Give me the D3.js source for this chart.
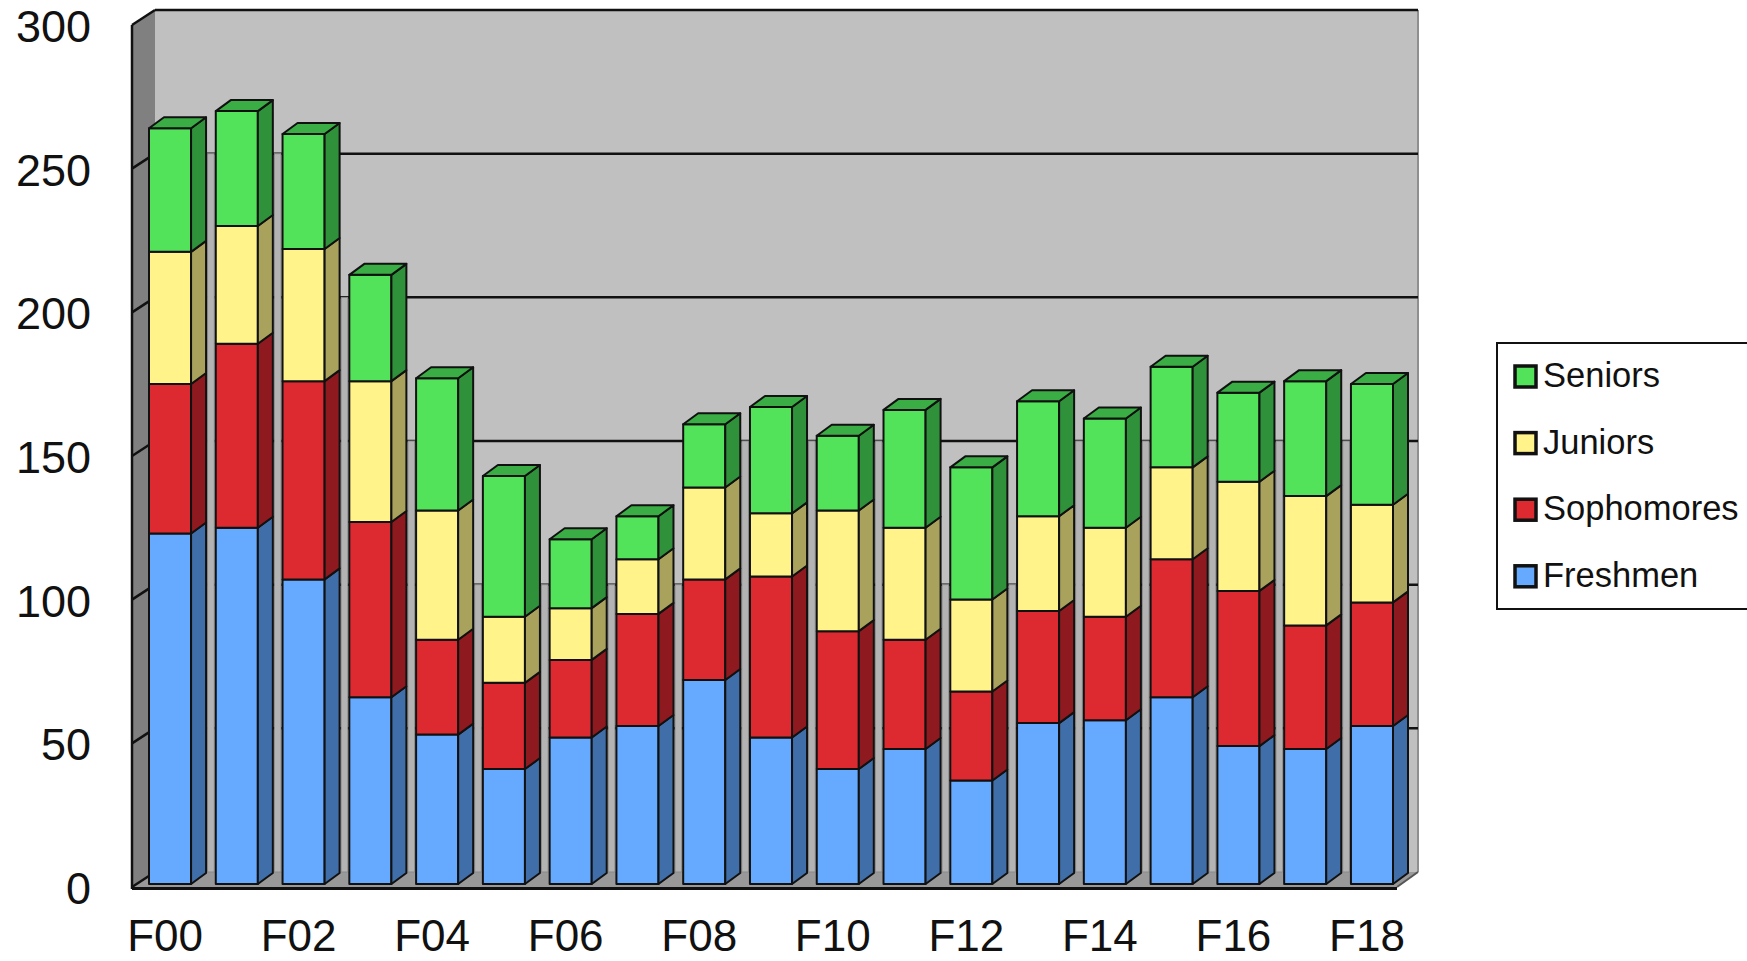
<!DOCTYPE html>
<html>
<head>
<meta charset="utf-8">
<script src="https://cdn.jsdelivr.net/npm/d3@7"></script>
<style>
  body { margin: 0; background: #fff; }
  svg { display: block; font-family: 'Liberation Sans', Arial, sans-serif; }
</style>
</head>
<body>
<div class="chart"></div>
<script>
// data (students per fall term)
const categories = ['F00','F01','F02','F03','F04','F05','F06','F07','F08','F09',
                    'F10','F11','F12','F13','F14','F15','F16','F17','F18'];
const freshmen   = [122, 124, 106, 65, 52, 40, 51, 55, 71, 51, 40, 47, 36, 56, 57, 65, 48, 47, 55];
const sophomores = [ 52,  64,  69, 61, 33, 30, 27, 39, 35, 56, 48, 38, 31, 39, 36, 48, 54, 43, 43];
const juniors    = [ 46,  41,  46, 49, 45, 23, 18, 19, 32, 22, 42, 39, 32, 33, 31, 32, 38, 45, 34];
const seniors    = [ 43,  40,  40, 37, 46, 49, 24, 15, 22, 37, 26, 41, 46, 40, 38, 35, 31, 40, 42];
const series_names = ['Freshmen', 'Sophomores', 'Juniors', 'Seniors'];
const y_ticks = [0, 50, 100, 150, 200, 250, 300];

const colors = {
    Freshmen:   {front: '#66aaff', side: '#3f6ea8', top: '#4f8fd8'},
    Sophomores: {front: '#dd2a31', side: '#8e1a1f', top: '#b22228'},
    Juniors:    {front: '#fff38a', side: '#a8a25c', top: '#d8cf70'},
    Seniors:    {front: '#52e35b', side: '#2f913a', top: '#3aae44'}
};

const svg_width = 1747, svg_height = 961;
const wall = {left: 132, back_left: 155, right: 1418, front_right: 1397, dx: 23, dy: 15};
const bar_dx = 15, bar_dy = 11;

const rows = categories.map((c, i) => ({
    term: c,
    Freshmen: freshmen[i], Sophomores: sophomores[i], Juniors: juniors[i], Seniors: seniors[i]
}));
const stacked = d3.stack().keys(series_names)(rows);

const svg = d3.select('.chart').append('svg')
    .attr('width', svg_width).attr('height', svg_height);

// scales: front plane, back wall, bar front faces
const y_front = d3.scaleLinear([0, 300], [887, 25]);
const y_back  = d3.scaleLinear([0, 300], [887 - wall.dy, 25 - wall.dy]);
const y_bar   = d3.scaleLinear([0, 300], [884, 22]);
const x_scale = d3.scaleBand().domain(categories).range([149, 1393])
    .paddingInner(0.37).paddingOuter(0);
const bw = x_scale.bandwidth();

// walls
svg.append('rect')
    .attr('x', wall.back_left).attr('y', y_back(300))
    .attr('width', wall.right - wall.back_left).attr('height', y_back(0) - y_back(300))
    .attr('fill', '#c0c0c0');
svg.append('line')
    .attr('x1', wall.right).attr('x2', wall.right)
    .attr('y1', y_back(300)).attr('y2', y_back(0))
    .attr('stroke', '#8f8f8f').attr('stroke-width', 2);
svg.append('polygon')
    .attr('points', [[wall.left, y_front(300)], [wall.back_left, y_back(300)],
                     [wall.back_left, y_back(0)], [wall.left, y_front(0)]].join(' '))
    .attr('fill', '#808080');
svg.append('polygon')
    .attr('points', [[wall.left, y_front(0)], [wall.back_left, y_back(0)],
                     [wall.right, y_back(0)], [wall.front_right, y_front(0)]].join(' '))
    .attr('fill', '#999999');
svg.append('line')
    .attr('x1', wall.front_right).attr('y1', y_front(0))
    .attr('x2', wall.right).attr('y2', y_back(0))
    .attr('stroke', '#555').attr('stroke-width', 2);

// gridlines on back wall + slanted ticks on the side wall
const grid = svg.append('g').attr('class', 'grid');
grid.selectAll('.hline').data(y_ticks.filter(d => d > 0)).join('line')
    .attr('x1', wall.back_left).attr('x2', wall.right)
    .attr('y1', d => y_back(d)).attr('y2', d => y_back(d))
    .attr('stroke', '#111').attr('stroke-width', 2.5);
grid.selectAll('.sline').data(y_ticks).join('line')
    .attr('x1', wall.left).attr('y1', d => y_front(d))
    .attr('x2', wall.back_left).attr('y2', d => y_back(d))
    .attr('stroke', '#111').attr('stroke-width', 2.5);
svg.append('line')
    .attr('x1', wall.left).attr('x2', wall.left)
    .attr('y1', y_front(300)).attr('y2', y_front(0) + 2)
    .attr('stroke', '#111').attr('stroke-width', 2.5);

// gray strips between bars
const totals = rows.map(r => r.Freshmen + r.Sophomores + r.Juniors + r.Seniors);
const strips = d3.range(categories.length - 1).map(i => ({
    x0: x_scale(categories[i]) + bw + bar_dx + 1.5,
    x1: x_scale(categories[i + 1]) - 1.5,
    top: Math.floor(Math.min(totals[i], totals[i + 1]) / 50) * 50
}));
svg.append('g').selectAll('rect').data(strips).join('rect')
    .attr('x', d => d.x0).attr('width', d => d.x1 - d.x0)
    .attr('y', d => y_back(d.top)).attr('height', d => y_back(0) - y_back(d.top))
    .attr('fill', '#b3b3b3').attr('stroke', '#8a8a8a').attr('stroke-width', 1);

// floor front edge
svg.append('line')
    .attr('x1', wall.left).attr('x2', wall.front_right)
    .attr('y1', y_front(0) + 1.5).attr('y2', y_front(0) + 1.5)
    .attr('stroke', '#111').attr('stroke-width', 3);

// 3D stacked bars
const bars = svg.append('g').attr('class', 'bars')
    .attr('stroke', '#111').attr('stroke-width', 2).attr('stroke-linejoin', 'round');

categories.forEach((c, i) => {
    const x0 = x_scale(c), x1 = x0 + bw;
    const g = bars.append('g');
    stacked.forEach((layer, k) => {
        const key = layer.key;
        const y_lo = y_bar(layer[i][0]), y_hi = y_bar(layer[i][1]);
        g.append('rect')
            .attr('x', x0).attr('y', y_hi)
            .attr('width', bw).attr('height', y_lo - y_hi)
            .attr('fill', colors[key].front);
        g.append('polygon')
            .attr('points', [[x1, y_hi], [x1 + bar_dx, y_hi - bar_dy],
                             [x1 + bar_dx, y_lo - bar_dy], [x1, y_lo]].join(' '))
            .attr('fill', colors[key].side);
        if (k === stacked.length - 1) {
            g.append('polygon')
                .attr('points', [[x0, y_hi], [x0 + bar_dx, y_hi - bar_dy],
                                 [x1 + bar_dx, y_hi - bar_dy], [x1, y_hi]].join(' '))
                .attr('fill', colors[key].top);
        }
    });
});

// y axis labels
const y_axis = d3.axisLeft(y_front).tickValues(y_ticks).tickSize(0).tickPadding(0);
const y_axis_draw = svg.append('g').attr('transform', 'translate(91,2)').call(y_axis);
y_axis_draw.select('.domain').remove();
y_axis_draw.selectAll('text')
    .attr('font-family', "'Liberation Sans', Arial, sans-serif")
    .attr('font-size', 45).attr('fill', '#111');

// x axis labels, every other term
const x_axis = d3.axisBottom(x_scale).tickSize(0)
    .tickFormat((d, i) => i % 2 === 0 ? d : '');
const x_axis_draw = svg.append('g').attr('transform', 'translate(-5,951)').call(x_axis);
x_axis_draw.select('.domain').remove();
x_axis_draw.selectAll('text')
    .attr('y', 0).attr('dy', 0)
    .attr('font-family', "'Liberation Sans', Arial, sans-serif")
    .attr('font-size', 44).attr('fill', '#111');

// legend
const legend = svg.append('g').attr('class', 'legend');
legend.append('rect')
    .attr('x', 1497).attr('y', 343).attr('width', 260).attr('height', 266)
    .attr('fill', '#fff').attr('stroke', '#111').attr('stroke-width', 2);
const legend_items = legend.selectAll('.item').data(series_names.slice().reverse()).join('g')
    .attr('class', 'item')
    .attr('transform', (d, i) => `translate(1515, ${376 + i * 66.6})`);
legend_items.append('rect')
    .attr('x', 0).attr('y', -10).attr('width', 21).attr('height', 21)
    .attr('fill', d => colors[d].front)
    .attr('stroke', '#111').attr('stroke-width', 3.5);
legend_items.append('text')
    .attr('x', 28).attr('y', 11)
    .attr('font-size', 34.5).attr('fill', '#111')
    .text(d => d);
</script>
</body>
</html>
